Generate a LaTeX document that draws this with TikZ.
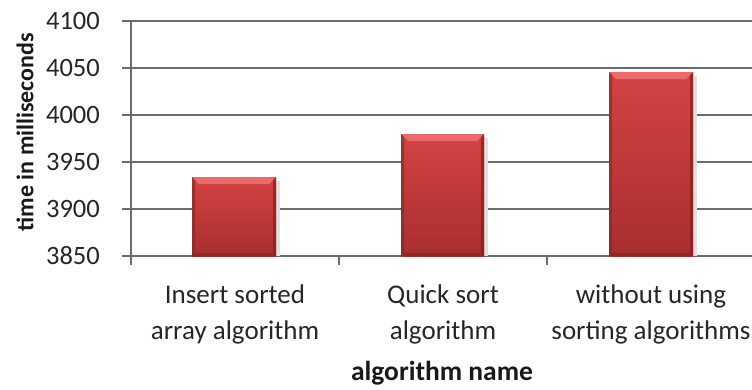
\documentclass[tikz,border=0pt]{standalone}
\usepackage{fontspec}
\setmainfont{Carlito}
\begin{document}
\begin{tikzpicture}[x=1pt,y=-1pt,
  grid/.style={draw=gray!85!black, line width=1.6pt},
  ylab/.style={anchor=east, inner sep=0pt, font=\fontsize{26.5}{28}\selectfont, text=black!85},
  xlab/.style={align=center, inner sep=0pt, font=\fontsize{27}{36}\selectfont, text=black!85},
  axtitle/.style={font=\bfseries\fontsize{27.5}{28}\selectfont, text=black!90}]
\useasboundingbox (0,0) rectangle (752,389);
\definecolor{barA}{HTML}{D44343}
\definecolor{barB}{HTML}{A82E2E}
\definecolor{barHi}{HTML}{EC6A6A}
\definecolor{barDk}{HTML}{7E2020}
% gridlines and axis
\foreach \v/\y in {4100/21,4050/68,4000/115,3950/162,3900/209,3850/256}{
  \draw[grid] (122,\y) -- (752,\y);
  \node[ylab] (y\v) at (100,\y) {\v};
}
\draw[grid] (131,21) -- (131,265);
\draw[grid] (339,256) -- (339,265);
\draw[grid] (547,256) -- (547,265);
% bars
\foreach \n/\xa/\xb/\t in {b1/192/276/177, b2/401/484/134, b3/609/693/72}{
  \fill[black!12] (\xb,\t+4) rectangle (\xb+4,256);
  \shade[top color=barA, bottom color=barB] (\xa,\t) rectangle (\xb,256);
  \fill[barHi] (\xa,\t) -- (\xb,\t) -- (\xb-7,\t+7) -- (\xa+7,\t+7) -- cycle;
  \fill[barB!80!black, opacity=0.6] (\xa,\t) -- (\xa+3,\t+3) -- (\xa+3,253) -- (\xa,256) -- cycle;
  \fill[barDk, opacity=0.7] (\xb,\t) -- (\xb-3,\t+3) -- (\xb-3,253) -- (\xb,256) -- cycle;
  \fill[barDk, opacity=0.5] (\xa,256) -- (\xa+3,253) -- (\xb-3,253) -- (\xb,256) -- cycle;
  \node[inner sep=0, minimum width=\xb-\xa, minimum height=256-\t, anchor=north west] (\n) at (\xa,\t) {};
}
% category labels
\node[xlab] (c1) at (235,314) {Insert sorted\\array algorithm};
\node[xlab] (c2) at (443,314) {Quick sort\\algorithm};
\node[xlab] (c3) at (651,314) {without using\\sorting algorithms};
\node[axtitle] (xt) at (442,373) {algorithm name};
\node[axtitle, font=\bfseries\fontsize{24}{26}\selectfont, rotate=90] (yt) at (25,132) {time in milliseconds};
\end{tikzpicture}
\end{document}
